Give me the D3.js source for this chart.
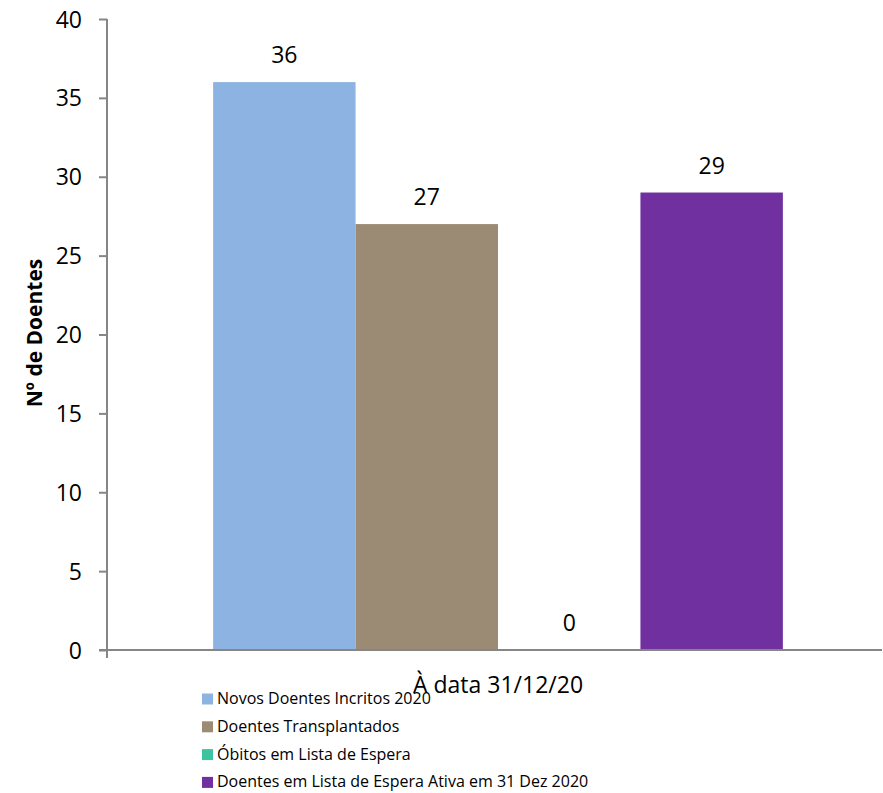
<!DOCTYPE html>
<html>
<head>
<meta charset="utf-8">
<script src="https://cdn.jsdelivr.net/npm/d3@7"></script>
<style>
  body { margin: 0; background: #fff; }
  svg { display: block; font-family: "Open Sans", "Noto Sans", sans-serif; }
</style>
</head>
<body>
<svg id="chart" width="883" height="793"></svg>
<script>
// Series drawn in the single category group
const categories = ["À data 31/12/20"];
const seriesNames = [
  "Novos Doentes Incritos 2020",
  "Doentes Transplantados",
  "Óbitos em Lista de Espera",
  "Doentes em Lista de Espera Ativa em 31 Dez 2020"
];
const seriesValues = [36, 27, 0, 29];
const seriesColors = ["#8db3e2", "#9c8b74", "#3ec3a0", "#7030a0"];
const yTicks = [0, 5, 10, 15, 20, 25, 30, 35, 40];
const yTitle = "Nº de Doentes";

const svg = d3.select("#chart");
const margin = { left: 107, right: 1, top: 19, bottom: 143 };
const W = 883, H = 793;
const plotW = W - margin.left - margin.right;
const plotH = H - margin.top - margin.bottom;

const g = svg.append("g").attr("transform", `translate(${margin.left},${margin.top})`);

const y = d3.scaleLinear().domain([0, 40]).range([plotH, 0]);
const x0 = d3.scaleBand().domain(categories).range([7, plotW]).paddingInner(0).paddingOuter(0.174);
const x1 = d3.scaleBand().domain(seriesNames).range([0, x0.bandwidth()]).padding(0);

// Bars
const grp = g.selectAll("g.cat").data(categories).join("g")
  .attr("class", "cat")
  .attr("transform", d => `translate(${x0(d)},0)`);

const data = seriesNames.map((n, i) => ({ name: n, value: seriesValues[i], color: seriesColors[i] }));

grp.selectAll("rect").data(data).join("rect")
  .attr("x", d => x1(d.name))
  .attr("y", d => y(d.value))
  .attr("width", x1.bandwidth())
  .attr("height", d => plotH - y(d.value))
  .attr("fill", d => d.color);

// Value labels above bars
grp.selectAll("text.val").data(data).join("text")
  .attr("class", "val")
  .attr("x", d => x1(d.name) + x1.bandwidth() / 2)
  .attr("y", d => y(d.value) - 19)
  .attr("text-anchor", "middle")
  .attr("font-size", 23)
  .attr("fill", "#000")
  .text(d => d.value);

// Y axis
const yAxis = d3.axisLeft(y).tickValues(yTicks).tickSize(8).tickPadding(17);
const ya = g.append("g").call(yAxis);
ya.select(".domain").attr("stroke", "#868686").attr("stroke-width", 2)
  .attr("d", `M0,0V${plotH + 8}`);
ya.selectAll(".tick line").attr("stroke", "#868686").attr("stroke-width", 2);
ya.selectAll(".tick text").attr("font-size", 23).attr("fill", "#000")
  .attr("font-family", "Open Sans, Noto Sans, sans-serif").attr("dy", "0.35em");

// X axis baseline
const xa = g.append("g").attr("transform", `translate(0,${plotH})`)
  .call(d3.axisBottom(x0).tickSize(0).tickFormat(""));
xa.select(".domain").attr("stroke", "#868686").attr("stroke-width", 2)
  .attr("d", `M-8,0H${plotW}`);

// Category label
g.append("text")
  .attr("x", x0(categories[0]) + x0.bandwidth() / 2)
  .attr("y", plotH + 43)
  .attr("text-anchor", "middle")
  .attr("font-size", 23)
  .attr("fill", "#000")
  .text(categories[0]);

// Y title
svg.append("text")
  .attr("transform", `translate(42,${margin.top + 314}) rotate(-90)`)
  .attr("text-anchor", "middle")
  .attr("font-size", 21)
  .attr("font-weight", "bold")
  .attr("fill", "#000")
  .text(yTitle);

// Legend
const legend = svg.append("g").attr("transform", "translate(202,704)");
const li = legend.selectAll("g").data(data).join("g")
  .attr("transform", (d, i) => `translate(0,${i * 27.8})`);
li.append("rect").attr("width", 11).attr("height", 11).attr("y", -10.5).attr("fill", d => d.color);
li.append("text").attr("x", 15).attr("y", 0).attr("font-size", 16).attr("fill", "#000")
  .text(d => d.name);
</script>
</body>
</html>
